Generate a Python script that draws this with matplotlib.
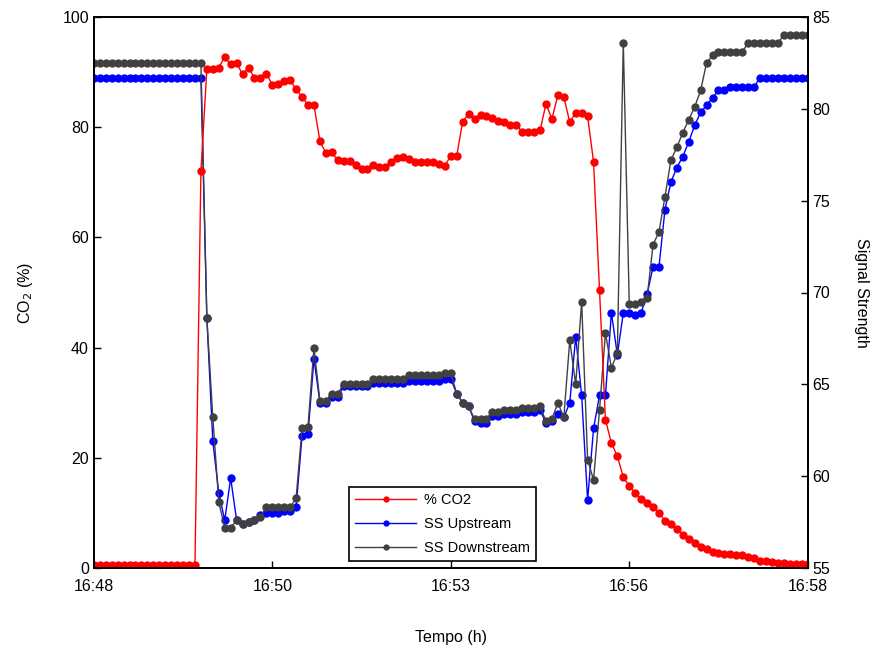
import matplotlib
matplotlib.use('Agg')
import numpy as np
import pandas as pd
import matplotlib.pyplot as plt

plt.rcParams['font.family'] = ['Liberation Sans', 'DejaVu Sans']

# one sample every 5 s from 16:48:00 to 16:58:00
tempo = pd.date_range('2020-01-01 16:48:00', '2020-01-01 16:58:00', freq='5s')

co2 = [0.5, 0.5, 0.5, 0.5, 0.5, 0.5, 0.5, 0.5, 0.5, 0.5,
       0.5, 0.5, 0.5, 0.5, 0.5, 0.5, 0.5, 0.5, 72.0, 90.6,
       90.6, 90.8, 92.7, 91.4, 91.6, 89.6, 90.8, 88.9, 89.0, 89.7,
       87.7, 87.8, 88.4, 88.5, 86.9, 85.5, 84.0, 84.0, 77.5, 75.3,
       75.4, 74.0, 73.9, 73.9, 73.1, 72.4, 72.4, 73.1, 72.8, 72.8,
       73.7, 74.4, 74.5, 74.3, 73.7, 73.7, 73.6, 73.7, 73.3, 73.0,
       74.8, 74.8, 81.0, 82.4, 81.5, 82.2, 82.0, 81.7, 81.2, 80.9,
       80.4, 80.4, 79.1, 79.1, 79.2, 79.4, 84.2, 81.5, 85.8, 85.5,
       80.9, 82.6, 82.6, 82.0, 73.7, 50.5, 26.9, 22.7, 20.3, 16.5,
       14.9, 13.6, 12.5, 11.8, 11.1, 10.0, 8.6, 8.0, 7.1, 6.0,
       5.2, 4.5, 3.8, 3.4, 3.0, 2.7, 2.6, 2.5, 2.4, 2.3,
       2.1, 1.9, 1.3, 1.2, 1.1, 0.9, 0.9, 0.8, 0.8, 0.7,
       0.7]

ss_up = [81.7, 81.7, 81.7, 81.7, 81.7, 81.7, 81.7, 81.7, 81.7, 81.7,
         81.7, 81.7, 81.7, 81.7, 81.7, 81.7, 81.7, 81.7, 81.7, 68.6,
         61.9, 59.1, 57.6, 59.9, 57.6, 57.4, 57.5, 57.6, 57.9, 58.0,
         58.0, 58.0, 58.1, 58.1, 58.3, 62.2, 62.3, 66.4, 64.0, 64.0,
         64.3, 64.3, 64.9, 64.9, 64.9, 64.9, 64.9, 65.1, 65.1, 65.1,
         65.1, 65.1, 65.1, 65.2, 65.2, 65.2, 65.2, 65.2, 65.2, 65.3,
         65.3, 64.5, 64.0, 63.8, 63.0, 62.9, 62.9, 63.3, 63.3, 63.4,
         63.4, 63.4, 63.5, 63.5, 63.5, 63.6, 62.9, 63.0, 63.4, 63.2,
         64.0, 67.6, 64.4, 58.7, 62.6, 64.4, 64.4, 68.9, 66.6, 68.9,
         68.9, 68.8, 68.9, 69.9, 71.4, 71.4, 74.5, 76.0, 76.8, 77.4,
         78.2, 79.1, 79.8, 80.2, 80.6, 81.0, 81.0, 81.2, 81.2, 81.2,
         81.2, 81.2, 81.7, 81.7, 81.7, 81.7, 81.7, 81.7, 81.7, 81.7,
         81.7]

ss_down = [82.5, 82.5, 82.5, 82.5, 82.5, 82.5, 82.5, 82.5, 82.5, 82.5,
           82.5, 82.5, 82.5, 82.5, 82.5, 82.5, 82.5, 82.5, 82.5, 68.6,
           63.2, 58.6, 57.2, 57.2, 57.6, 57.4, 57.5, 57.6, 57.8, 58.3,
           58.3, 58.3, 58.3, 58.3, 58.8, 62.6, 62.7, 67.0, 64.1, 64.1,
           64.5, 64.5, 65.0, 65.0, 65.0, 65.0, 65.0, 65.3, 65.3, 65.3,
           65.3, 65.3, 65.3, 65.5, 65.5, 65.5, 65.5, 65.5, 65.5, 65.6,
           65.6, 64.5, 64.0, 63.8, 63.1, 63.1, 63.1, 63.5, 63.5, 63.6,
           63.6, 63.6, 63.7, 63.7, 63.7, 63.8, 63.0, 63.1, 64.0, 63.2,
           67.4, 65.0, 69.5, 60.9, 59.8, 63.6, 67.8, 65.9, 66.7, 83.6,
           69.4, 69.4, 69.5, 69.7, 72.6, 73.3, 75.2, 77.2, 77.9, 78.7,
           79.4, 80.1, 81.0, 82.5, 82.9, 83.1, 83.1, 83.1, 83.1, 83.1,
           83.6, 83.6, 83.6, 83.6, 83.6, 83.6, 84.0, 84.0, 84.0, 84.0,
           84.0]

tick_times = pd.to_datetime(['2020-01-01 16:48:00', '2020-01-01 16:50:30',
                             '2020-01-01 16:53:00', '2020-01-01 16:55:30',
                             '2020-01-01 16:58:00'])
tick_labels = ['16:48', '16:50', '16:53', '16:56', '16:58']

fig = plt.figure(figsize=(8.77, 6.5), dpi=100)
ax = fig.add_axes([0.107, 0.126, 0.814, 0.848])
ax2 = ax.twinx()
ax.set_zorder(ax2.get_zorder() + 1)
ax.patch.set_visible(False)

l1, = ax.plot(tempo, co2, color='#FF0000', lw=1, marker='o', ms=5, label='% CO2')
l2, = ax2.plot(tempo, ss_up, color='#0000FF', lw=1, marker='o', ms=5, label='SS Upstream')
l3, = ax2.plot(tempo, ss_down, color='#404040', lw=1, marker='o', ms=5, label='SS Downstream')

ax.set_xlim(tempo[0], tempo[-1])
ax.set_ylim(0, 100)
ax2.set_ylim(55, 85)
ax.set_yticks(range(0, 101, 20))
ax2.set_yticks(range(55, 86, 5))
ax.set_xticks(tick_times)
ax.set_xticklabels(tick_labels)

for a in (ax, ax2):
    a.tick_params(direction='in', labelsize=11.5, length=5, width=1)
    for s in a.spines.values():
        s.set_linewidth(1.3)
ax.tick_params(axis='x', pad=8)

ax.set_ylabel('CO$_2$ (%)', fontsize=11.5, labelpad=20)
ax2.set_ylabel('Signal Strength', fontsize=11.5, rotation=270, labelpad=28)
ax.set_xlabel('Tempo (h)', fontsize=11.5, labelpad=26)

leg = ax.legend(handles=[l1, l2, l3], loc='lower left', bbox_to_anchor=(0.358, 0.013),
                fontsize=10.5, fancybox=False, framealpha=1, edgecolor='black',
                borderpad=0.4, labelspacing=0.7, handlelength=4.2, handletextpad=0.5,
                markerscale=0.7, borderaxespad=0)
leg.get_frame().set_linewidth(1.2)

fig.savefig('out.png', dpi=100)
